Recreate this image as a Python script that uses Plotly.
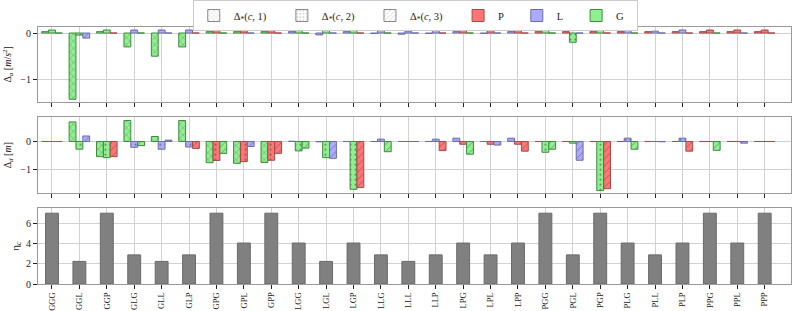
import plotly.graph_objects as go
from plotly.subplots import make_subplots

categories = ["GGG", "GGL", "GGP", "GLG", "GLL", "GLP", "GPG", "GPL", "GPP",
              "LGG", "LGL", "LGP", "LLG", "LLL", "LLP", "LPG", "LPL", "LPP",
              "PGG", "PGL", "PGP", "PLG", "PLL", "PLP", "PPG", "PPL", "PPP"]

delta_a_1 = [0.03, -1.43, 0.03, -0.30, -0.50, -0.30, 0.03, 0.03, 0.03,
             0.03, -0.04, 0.03, -0.01, -0.025, -0.01, 0.03, -0.01, 0.03,
             0.03, 0.03, 0.03, 0.03, 0.03, 0.03, 0.03, 0.03, 0.03]
delta_a_2 = [0.065, -0.045, 0.065, 0.065, 0.065, 0.065, 0.065, 0.065, 0.065,
             0.065, 0.065, 0.065, 0.065, 0.04, 0.065, 0.065, 0.065, 0.065,
             0.065, -0.20, 0.065, 0.065, 0.04, 0.065, 0.065, 0.065, 0.065]
delta_a_3 = [0.0, -0.11, 0.0, 0.0, 0.0, 0.0, 0.0, 0.0, 0.0,
             0.0, 0.0, 0.0, 0.0, 0.0, 0.0, 0.0, 0.0, 0.0,
             0.0, 0.0, 0.0, 0.0, 0.0, 0.0, 0.0, 0.0, 0.0]

delta_d_1 = [0.0, 0.71, -0.55, 0.76, 0.18, 0.76, -0.77, -0.79, -0.76,
             0.01, -0.01, 0.0, 0.0, 0.0, 0.0, 0.12, 0.0, 0.12,
             0.0, 0.0, 0.0, 0.0, 0.0, 0.0, 0.0, 0.0, 0.0]
delta_d_2 = [0.0, -0.28, -0.585, -0.21, -0.28, -0.20, -0.69, -0.73, -0.68,
             -0.34, -0.585, -1.73, 0.085, 0.0, 0.085, -0.10, -0.10, -0.10,
             -0.39, -0.06, -1.78, 0.12, 0.0, 0.12, 0.0, 0.0, 0.0]
delta_d_3 = [0.0, 0.20, -0.55, -0.15, 0.05, -0.25, -0.43, -0.18, -0.43,
             -0.24, -0.61, -1.67, -0.37, 0.0, -0.33, -0.46, -0.13, -0.35,
             -0.28, -0.68, -1.71, -0.28, -0.01, -0.35, -0.32, -0.06, 0.0]

eta_c = [7.05, 2.25, 7.05, 2.9, 2.25, 2.9, 7.05, 4.08, 7.05,
         4.08, 2.25, 4.08, 2.9, 2.25, 2.9, 4.08, 2.9, 4.08,
         7.05, 2.9, 7.05, 4.08, 2.9, 4.08, 7.05, 4.08, 7.05]

legend_labels = ["Δ<sub>*</sub>(<i>c</i>, 1)", "Δ<sub>*</sub>(<i>c</i>, 2)", "Δ<sub>*</sub>(<i>c</i>, 3)"]
letters = ["P", "L", "G"]

fill_colors = {"P": "#ff7474", "L": "#ababff", "G": "#8ff08f"}
edge_colors = {"P": "#a44a4a", "L": "#6c6ca8", "G": "#3f8a3f"}
hatch_shapes = ["x", ".", "/"]

FONT = "Liberation Serif"
PAD_A = "\u00a0" * 4
PAD_B = "\u00a0" * 3

fig = make_subplots(rows=3, cols=1, shared_xaxes=True, vertical_spacing=0.06)

panels = [(1, [delta_a_1, delta_a_2, delta_a_3]),
          (2, [delta_d_1, delta_d_2, delta_d_3])]
for row, series in panels:
    for k, vals in enumerate(series):
        cols = [fill_colors[c[k]] for c in categories]
        edges = [edge_colors[c[k]] for c in categories]
        fig.add_trace(go.Bar(
            x=categories, y=vals, width=0.25, offset=-0.375 + 0.25 * k,
            marker=dict(color=cols, line=dict(color=edges, width=1),
                        pattern=dict(shape=hatch_shapes[k], fgcolor=edges,
                                     fgopacity=0.6, size=5, solidity=0.15)),
            showlegend=False, hoverinfo="skip"), row=row, col=1)

fig.add_trace(go.Bar(x=categories, y=eta_c, width=0.47,
                     marker=dict(color="#808080", line=dict(color="#6a6a6a", width=1)),
                     showlegend=False), row=3, col=1)

# legend entries
for k in range(3):
    fig.add_trace(go.Bar(x=[None], y=[None], name=legend_labels[k] + PAD_A,
                         marker=dict(color="white", line=dict(color="#888888", width=1),
                                     pattern=dict(shape=hatch_shapes[k], fgcolor="#888888",
                                                  size=4, solidity=0.2)),
                         showlegend=True), row=1, col=1)
for L in letters:
    fig.add_trace(go.Bar(x=[None], y=[None], name=L + PAD_B,
                         marker=dict(color=fill_colors[L], line=dict(color=edge_colors[L], width=1)),
                         showlegend=True), row=1, col=1)

grid = "#d2d2d2"
border = "#9a9a9a"
xcommon = dict(range=[-0.51, 26.96], showgrid=True, gridcolor=grid, gridwidth=1,
               showline=True, linecolor=border, mirror=True, ticks="outside",
               ticklen=4, tickcolor="#222222", tickwidth=1,
               categoryorder="array", categoryarray=categories)
fig.update_xaxes(**xcommon)
fig.update_xaxes(showticklabels=False, row=1, col=1)
fig.update_xaxes(showticklabels=False, row=2, col=1)
fig.update_xaxes(tickangle=-90, tickfont=dict(family=FONT, size=8.5, color="#222"), row=3, col=1)

ycommon = dict(showgrid=True, gridcolor=grid, gridwidth=1, zeroline=True,
               zerolinecolor=grid, zerolinewidth=1,
               showline=True, linecolor=border, mirror=True, ticks="outside",
               ticklen=4, tickcolor="#222222", tickwidth=1,
               tickfont=dict(family=FONT, size=10, color="#222"))
fig.update_yaxes(**ycommon)
fig.update_yaxes(range=[-1.48, 0.13], tickvals=[0, -1], domain=[0.7097, 1.0],
                 title=dict(text="Δ<sub><i>a</i></sub> [<i>m</i>/<i>s</i><sup>2</sup>]",
                            font=dict(family=FONT, size=10, color="#222"), standoff=6),
                 row=1, col=1)
fig.update_yaxes(range=[-1.87, 0.88], tickvals=[0, -1], domain=[0.3537, 0.649],
                 title=dict(text="Δ<sub><i>d</i></sub> [<i>m</i>]",
                            font=dict(family=FONT, size=10, color="#222"), standoff=6),
                 row=2, col=1)
fig.update_yaxes(range=[0, 7.56], tickvals=[0, 2, 4, 6], domain=[0.0, 0.2954],
                 title=dict(text="η<sub><i>c</i></sub>",
                            font=dict(family=FONT, size=11, color="#222"), standoff=4),
                 row=3, col=1)

fig.update_layout(
    width=793, height=311,
    margin=dict(l=38, r=2, t=27, b=27, autoexpand=False),
    plot_bgcolor="white", paper_bgcolor="white",
    barmode="overlay",
    font=dict(family=FONT, size=10, color="#222"),
    legend=dict(orientation="h", x=0.501, xanchor="center", y=1.105, yanchor="top",
                bordercolor="#cccccc", borderwidth=1, bgcolor="white",
                font=dict(family=FONT, size=10.5, color="#222"),
                itemwidth=30, tracegroupgap=0),
)

fig.write_html("out.html", config={"displayModeBar": False},
               post_script="document.body.style.margin='0';")
